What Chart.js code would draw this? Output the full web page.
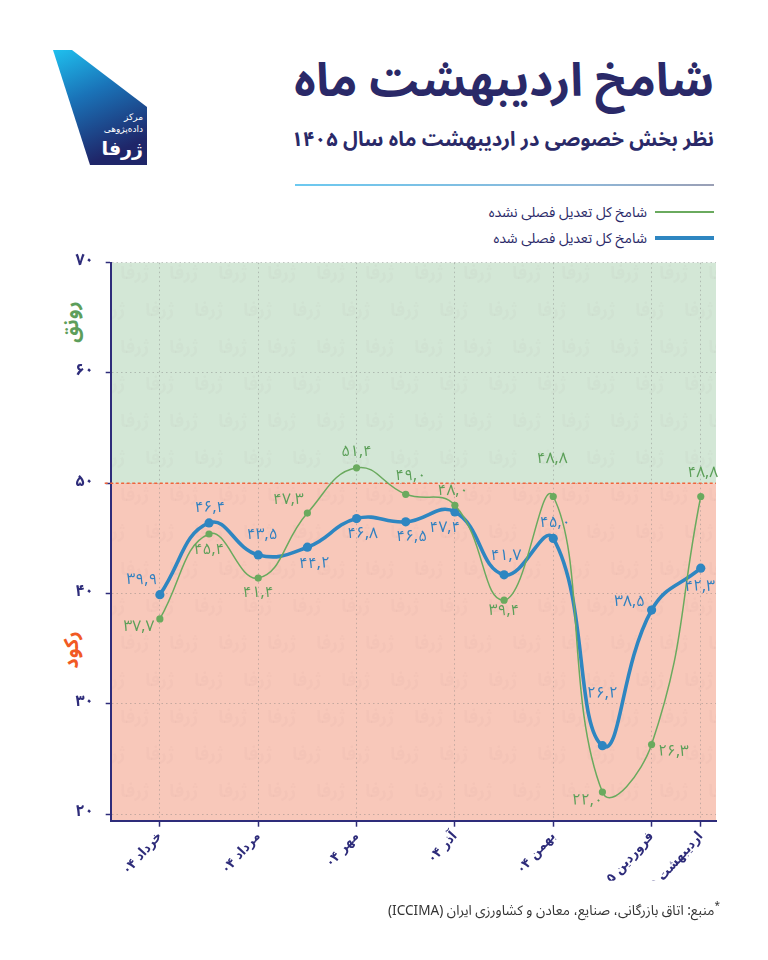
<!DOCTYPE html>
<html lang="fa" dir="rtl">
<head>
<meta charset="utf-8">
<script src="https://cdn.jsdelivr.net/npm/chart.js@4.4.1/dist/chart.umd.min.js"></script>
<style>
html,body{margin:0;padding:0;background:#fff;}
body{width:768px;height:960px;position:relative;overflow:hidden;font-family:"Noto Sans Arabic","DejaVu Sans",sans-serif;color:#2b2a6e;}
#logo{position:absolute;left:52px;top:49px;width:96px;height:117px;}
#title{position:absolute;right:54px;top:52px;font-size:46px;font-weight:bold;white-space:nowrap;line-height:60px;color:#2a2968;}
#subtitle{position:absolute;right:54px;top:125px;font-size:20.2px;font-weight:bold;white-space:nowrap;line-height:30px;color:#2a2968;}
#divider{position:absolute;left:295px;width:419px;top:184px;height:1.5px;background:linear-gradient(to right,#6cc9f0,#8fb7d8 70%,#9a9fb5);}
.leg{position:absolute;right:54px;height:20px;display:flex;align-items:center;gap:8px;font-size:14px;color:#2a2968;white-space:nowrap;}
.leg .sw{width:59px;}
#leg1{top:202px;}
#leg2{top:228px;}
#leg1 .sw{height:1.6px;background:#6aaa5e;}
#leg2 .sw{height:3.2px;background:#2e86c1;}
.side{position:absolute;font-weight:bold;font-size:20px;transform:translate(-50%,-50%) rotate(-90deg);white-space:nowrap;line-height:24px;}
#rownagh{left:72px;top:322px;color:#5d9e5b;}
#rokood{left:72px;top:650px;color:#f15a24;}
#chartwrap{position:absolute;left:0;top:240px;width:768px;height:680px;}
#source{position:absolute;right:48px;top:895px;font-size:13.6px;color:#333;white-space:nowrap;}
#source sup{font-size:10px;}
</style>
</head>
<body>
<svg id="logo" viewBox="0 0 96 117" xmlns="http://www.w3.org/2000/svg" direction="ltr">
  <defs>
    <linearGradient id="lg" x1="0" y1="0" x2="0.35" y2="1">
      <stop offset="0" stop-color="#1fc0ee"/>
      <stop offset="0.45" stop-color="#1a73b8"/>
      <stop offset="1" stop-color="#1f2669"/>
    </linearGradient>
  </defs>
  <polygon points="1,1 20,1 95,58 95,116 38,116" fill="url(#lg)"/>
  <text x="91" y="71" font-size="9" fill="#fff" text-anchor="end" direction="ltr" font-family="DejaVu Sans">مرکز</text>
  <text x="91" y="83" font-size="9" fill="#fff" text-anchor="end" direction="ltr" font-family="DejaVu Sans">داده‌پژوهی</text>
  <text x="91" y="106" font-size="19" font-weight="bold" fill="#fff" text-anchor="end" direction="ltr" font-family="DejaVu Sans">ژرفا</text>
</svg>
<div id="title">شامخ اردیبهشت ماه</div>
<div id="subtitle">نظر بخش خصوصی در اردیبهشت ماه سال ۱۴۰۵</div>
<div id="divider"></div>
<div class="leg" id="leg1"><span class="sw"></span><span>شامخ کل تعدیل فصلی نشده</span></div>
<div class="leg" id="leg2"><span class="sw"></span><span>شامخ کل تعدیل فصلی شده</span></div>
<div class="side" id="rownagh">رونق</div>
<div class="side" id="rokood">رکود</div>
<div id="chartwrap"><canvas id="c" width="768" height="680" dir="rtl"></canvas></div>
<div id="source"><sup>*</sup>منبع: اتاق بازرگانی، صنایع، معادن و کشاورزی ایران (ICCIMA)</div>

<script>
// ---- data ----
const months = ['خرداد ۰۴','تیر ۰۴','مرداد ۰۴','شهریور ۰۴','مهر ۰۴','آبان ۰۴','آذر ۰۴','دی ۰۴','بهمن ۰۴','اسفند ۰۴','فروردین ۰۵','اردیبهشت ۰۵'];
const shownTickIdx = [0, 2, 4, 6, 8, 10, 11];
const yTicks = [20, 30, 40, 50, 60, 70];
const notAdjusted = [37.7, 45.4, 41.4, 47.3, 51.4, 49.0, 48.0, 39.4, 48.8, 22.0, 26.3, 48.8];
const adjusted    = [39.9, 46.4, 43.5, 44.2, 46.8, 46.5, 47.4, 41.7, 45.0, 26.2, 38.5, 42.3];
const seriesNames = ['شامخ کل تعدیل فصلی نشده', 'شامخ کل تعدیل فصلی شده'];
const threshold = 50;
const watermarkText = 'ژرفا';

// ---- label placement (px offsets from each point) ----
const greenLabelOffsets = [[-21,10],[0,18],[0,17],[-19,-11],[0,-14],[5,-17],[-2,-13],[0,13],[-1,-36],[-15,11],[22,9],[2,-22]];
const blueLabelOffsets  = [[-18,-13],[1,-13],[4,-18],[7,18],[6,17],[6,17],[-10,18],[2,-17],[2,-14],[0,-50],[-22,-6],[-1,21]];

const faDigits = '۰۱۲۳۴۵۶۷۸۹';
const toFa = s => String(s).replace(/[0-9]/g, d => faDigits[d]);
const fmt = v => toFa(v.toFixed(1)).replace('.', ',');

const GREEN = '#6aaa5e', BLUE = '#2e86c1', NAVY = '#2e2c7a';
const FONT = '"Noto Sans Arabic","DejaVu Sans",sans-serif';
const FONT_COND = '"DejaVu Sans Condensed","DejaVu Sans",sans-serif';

const bandsPlugin = {
  id: 'bands',
  beforeDraw(chart) {
    const {ctx, chartArea: a, scales: {y}} = chart;
    const yT = y.getPixelForValue(threshold);
    ctx.save();
    ctx.fillStyle = '#d3e7d6';
    ctx.fillRect(a.left, a.top, a.right - a.left, yT - a.top);
    ctx.fillStyle = '#f8c8ba';
    ctx.fillRect(a.left, yT, a.right - a.left, a.bottom - yT);
    // very faint brand watermark pattern
    ctx.beginPath();
    ctx.rect(a.left, a.top, a.right - a.left, a.bottom - a.top);
    ctx.clip();
    ctx.fillStyle = 'rgba(140,120,120,0.035)';
    ctx.font = 'bold 18px ' + FONT;
    ctx.textAlign = 'center';
    ctx.textBaseline = 'middle';
    let row = 0;
    for (let yy = a.top + 14; yy < a.bottom + 20; yy += 37, row++) {
      for (let xx = a.left + (row % 2 ? 0 : 24); xx < a.right + 30; xx += 49) {
        ctx.fillText(watermarkText, xx, yy);
      }
    }
    ctx.restore();
  },
  beforeDatasetsDraw(chart) {
    const {ctx, chartArea: a, scales: {y}} = chart;
    const yT = y.getPixelForValue(threshold);
    ctx.save();
    ctx.strokeStyle = '#f0643a';
    ctx.lineWidth = 1.3;
    ctx.setLineDash([3, 2.5]);
    ctx.beginPath();
    ctx.moveTo(a.left - 6, yT);
    ctx.lineTo(a.right, yT);
    ctx.stroke();
    ctx.restore();
  }
};

const labelsPlugin = {
  id: 'pointLabels',
  afterDatasetsDraw(chart) {
    const {ctx} = chart;
    const cfg = [
      {vals: notAdjusted, off: greenLabelOffsets, color: '#5b9f58'},
      {vals: adjusted, off: blueLabelOffsets, color: '#2f80c0'}
    ];
    ctx.save();
    ctx.font = '15.5px ' + FONT;
    ctx.textAlign = 'center';
    ctx.textBaseline = 'middle';
    cfg.forEach((c, di) => {
      const meta = chart.getDatasetMeta(di);
      ctx.fillStyle = c.color;
      meta.data.forEach((pt, i) => {
        ctx.fillText(fmt(c.vals[i]), pt.x + c.off[i][0], pt.y + c.off[i][1]);
      });
    });
    ctx.restore();
  }
};

new Chart(document.getElementById('c'), {
  type: 'line',
  data: {
    datasets: [
      {
        label: seriesNames[0],
        data: notAdjusted.map((v, i) => ({x: i, y: v})),
        borderColor: GREEN, backgroundColor: GREEN,
        borderWidth: 1.5, pointRadius: 3.6, pointBorderWidth: 0,
        tension: 0.45, order: 0
      },
      {
        label: seriesNames[1],
        data: adjusted.map((v, i) => ({x: i, y: v})),
        borderColor: BLUE, backgroundColor: BLUE,
        borderWidth: 3.6, pointRadius: 4.6, pointBorderWidth: 0,
        tension: 0.45, order: 1
      }
    ]
  },
  options: {
    responsive: false,
    animation: false,
    events: [],
    layout: {padding: {left: 0, right: 52, top: 22.7, bottom: 39.3}},
    plugins: {legend: {display: false}, tooltip: {enabled: false}},
    scales: {
      x: {
        type: 'linear', min: -1, max: 11.31,
        afterBuildTicks: s => { s.ticks = shownTickIdx.map(v => ({value: v})); },
        afterFit: s => { s.height = 60; },
        grid: {color: 'rgba(120,120,120,0.4)', lineWidth: 1, tickColor: NAVY, tickLength: 6, tickWidth: 1.5},
        border: {color: NAVY, width: 2, dash: [1.5, 3]},
        ticks: {
          autoSkip: false, maxRotation: 48, minRotation: 48, padding: 2,
          color: NAVY, font: {family: FONT_COND, size: 13.5, weight: 'bold'},
          callback: v => months[v]
        }
      },
      y: {
        min: 19.4, max: 70,
        afterBuildTicks: s => { s.ticks = yTicks.map(v => ({value: v})); },
        afterFit: s => { s.width = 110.7; },
        grid: {color: 'rgba(120,120,120,0.4)', lineWidth: 1, tickColor: NAVY, tickLength: 5, tickWidth: 1.5},
        border: {color: NAVY, width: 2, dash: [1.5, 3]},
        ticks: {padding: 12, color: NAVY, font: {family: FONT, size: 16, weight: 'bold'}, callback: v => toFa(v)}
      }
    }
  },
  plugins: [bandsPlugin, labelsPlugin]
});
</script>
</body>
</html>
